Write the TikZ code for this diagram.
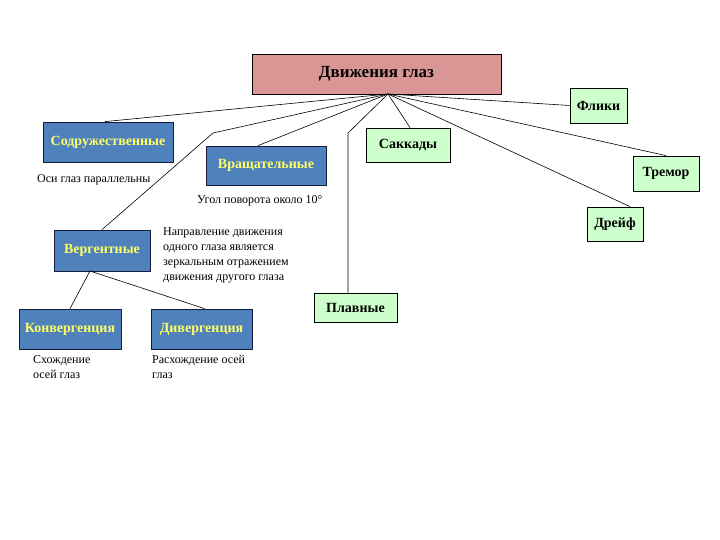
\documentclass[tikz,border=0pt]{standalone}
\usepackage{fontspec}
\setmainfont{Liberation Serif}
\definecolor{mainfill}{RGB}{217,150,148}
\definecolor{greenfill}{RGB}{204,255,204}
\definecolor{bluefill}{RGB}{79,129,189}
\definecolor{bluetext}{RGB}{255,255,102}
\definecolor{blueedge}{RGB}{20,30,60}
\begin{document}
\begin{tikzpicture}[x=1pt,y=1pt,
  box/.style={draw=black, line width=0.8pt, inner sep=0pt, align=center},
  mainbox/.style={box, fill=mainfill, font=\fontsize{17}{20}\selectfont\bfseries},
  greenbox/.style={box, fill=greenfill, font=\fontsize{14}{16}\selectfont\bfseries},
  bluebox/.style={box, draw=blueedge, fill=bluefill, text=bluetext, font=\fontsize{14}{16}\selectfont\bfseries},
  note/.style={inner sep=0pt, align=left, anchor=west, font=\fontsize{12}{15.3}\selectfont},
  link/.style={draw=black, line width=0.6pt}]
\useasboundingbox (0,0) rectangle (720,-540);
\fill[white] (0,0) rectangle (720,-540);

\node[mainbox, minimum width=249, minimum height=40] (main) at (376.5,-74) {Движения глаз};
\node[greenbox, minimum width=57, minimum height=35] (fliki) at (598.5,-105.5) {Флики};
\node[bluebox, minimum width=130, minimum height=40] (sod) at (108,-142) {Содружественные};
\node[bluebox, minimum width=120, minimum height=39] (vr) at (266,-165.5) {Вращательные};
\node[greenbox, minimum width=84, minimum height=34] (sak) at (408,-145) {Саккады};
\node[greenbox, minimum width=66, minimum height=35] (trem) at (666,-173.5) {Тремор};
\node[greenbox, minimum width=56, minimum height=34] (dr) at (615,-224) {Дрейф};
\node[bluebox, minimum width=96, minimum height=41] (verg) at (102,-250.5) {Вергентные};
\node[greenbox, minimum width=83, minimum height=29] (plav) at (355.5,-307.5) {Плавные};
\node[bluebox, minimum width=102, minimum height=40] (konv) at (70,-329) {Конвергенция};
\node[bluebox, minimum width=101, minimum height=40] (div) at (201.5,-329) {Дивергенция};

\node[note] (t1) at (37,-180) {Оси глаз параллельны};
\node[note] (t2) at (197,-201) {Угол поворота около 10\textdegree};
\node[note, anchor=north west] (t3) at (163,-227) {Направление движения\\одного глаза является\\зеркальным отражением\\движения другого глаза};
\node[note, anchor=north west] (t4) at (33,-355) {Схождение\\осей глаз};
\node[note, anchor=north west] (t5) at (152,-355) {Расхождение осей\\глаз};

\coordinate (hub) at (388,-94);
\coordinate (e1) at (213,-133);
\coordinate (e2) at (348,-133);
\coordinate (vb) at (90,-271);

\draw[link] (hub) -- (fliki.west);
\draw[link] (hub) -- ([xshift=-3]sod.north);
\draw[link] (hub) -- (e1) -- (verg.north);
\draw[link] (hub) -- ([xshift=-8]vr.north);
\draw[link] (hub) -- (e2) -- (e2 |- plav.north);
\draw[link] (hub) -- ([xshift=2]sak.north);
\draw[link] (hub) -- ([xshift=15]dr.north);
\draw[link] (hub) -- (trem.north);
\draw[link] (vb) -- (konv.north);
\draw[link] (vb) -- ([xshift=3]div.north);
\end{tikzpicture}
\end{document}
